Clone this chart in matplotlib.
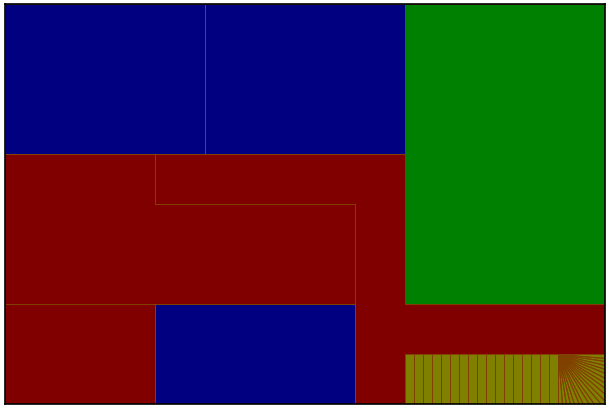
import numpy as np
import matplotlib
matplotlib.use('Agg')
import matplotlib.pyplot as plt
from matplotlib.patches import Polygon

# ── Data: regions in grid units (x 0..12, y 0..8 measured from the top) ──────
navy_blocks = [
    [(0, 0), (4, 0), (4, 3), (0, 3)],
    [(4, 0), (8, 0), (8, 3), (4, 3)],
    [(3, 6), (7, 6), (7, 8), (3, 8)],
]
green_blocks = [
    [(8, 0), (12, 0), (12, 6), (8, 6)],
]
maroon_blocks = [
    [(0, 3), (3, 3), (3, 4), (7, 4), (7, 6), (0, 6)],
    [(3, 3), (8, 3), (8, 6), (12, 6), (12, 7), (8, 7), (8, 8), (7, 8), (7, 4), (3, 4)],
    [(0, 6), (3, 6), (3, 8), (0, 8)],
]
olive_box = (8, 7, 12, 8)          # x0, y0, x1, y1
strip_count = 17
strip_width = 0.18
fan_count = 20

colors = {'navy': '#000080', 'green': '#008000', 'maroon': '#800000', 'olive': '#808000'}
edge = '#804000'

fig = plt.figure(figsize=(6.1, 4.1), dpi=100)
ax = fig.add_axes([5 / 610, 5 / 410, 600 / 610, 400 / 410])

shapes = []


def add(poly, color):
    shapes.append(poly)
    ax.add_patch(Polygon(poly, closed=True, facecolor=color, edgecolor='none',
                         antialiased=False))


for p in navy_blocks:
    add(p, colors['navy'])
for p in green_blocks:
    add(p, colors['green'])
for p in maroon_blocks:
    add(p, colors['maroon'])

# olive strips
x0, y0, x1, y1 = olive_box
for i in range(strip_count):
    a = x0 + i * strip_width
    add([(a, y0), (a + strip_width, y0), (a + strip_width, y1), (a, y1)], colors['olive'])

# olive fan in the leftover corner
cx = x0 + strip_count * strip_width
cy = y0
w, h = x1 - cx, y1 - cy


def ray_end(t):
    # t: angle from straight down toward the right edge
    if np.tan(t) * h <= w:
        return (cx + np.tan(t) * h, y1)
    return (x1, cy + w / np.tan(t))


angles = np.linspace(0, np.pi / 2, fan_count + 1)
for a, b in zip(angles[:-1], angles[1:]):
    pa, pb = ray_end(a), ray_end(b)
    pts = [(cx, cy), pa]
    if pa[1] == y1 and pb[0] == x1:
        pts.append((x1, y1))
    pts.append(pb)
    add(pts, colors['olive'])

# outlines on top, one pixel wide
for p in shapes:
    ax.add_patch(Polygon(p, closed=True, facecolor='none', edgecolor=edge,
                         linewidth=0.72, snap=True, zorder=3))

ax.set_xlim(0, 12)
ax.set_ylim(8, 0)
ax.set_xticks([])
ax.set_yticks([])
for s in ax.spines.values():
    s.set_color('black')
    s.set_linewidth(1.2)
    s.set_zorder(5)

plt.savefig('out.png', dpi=100)
